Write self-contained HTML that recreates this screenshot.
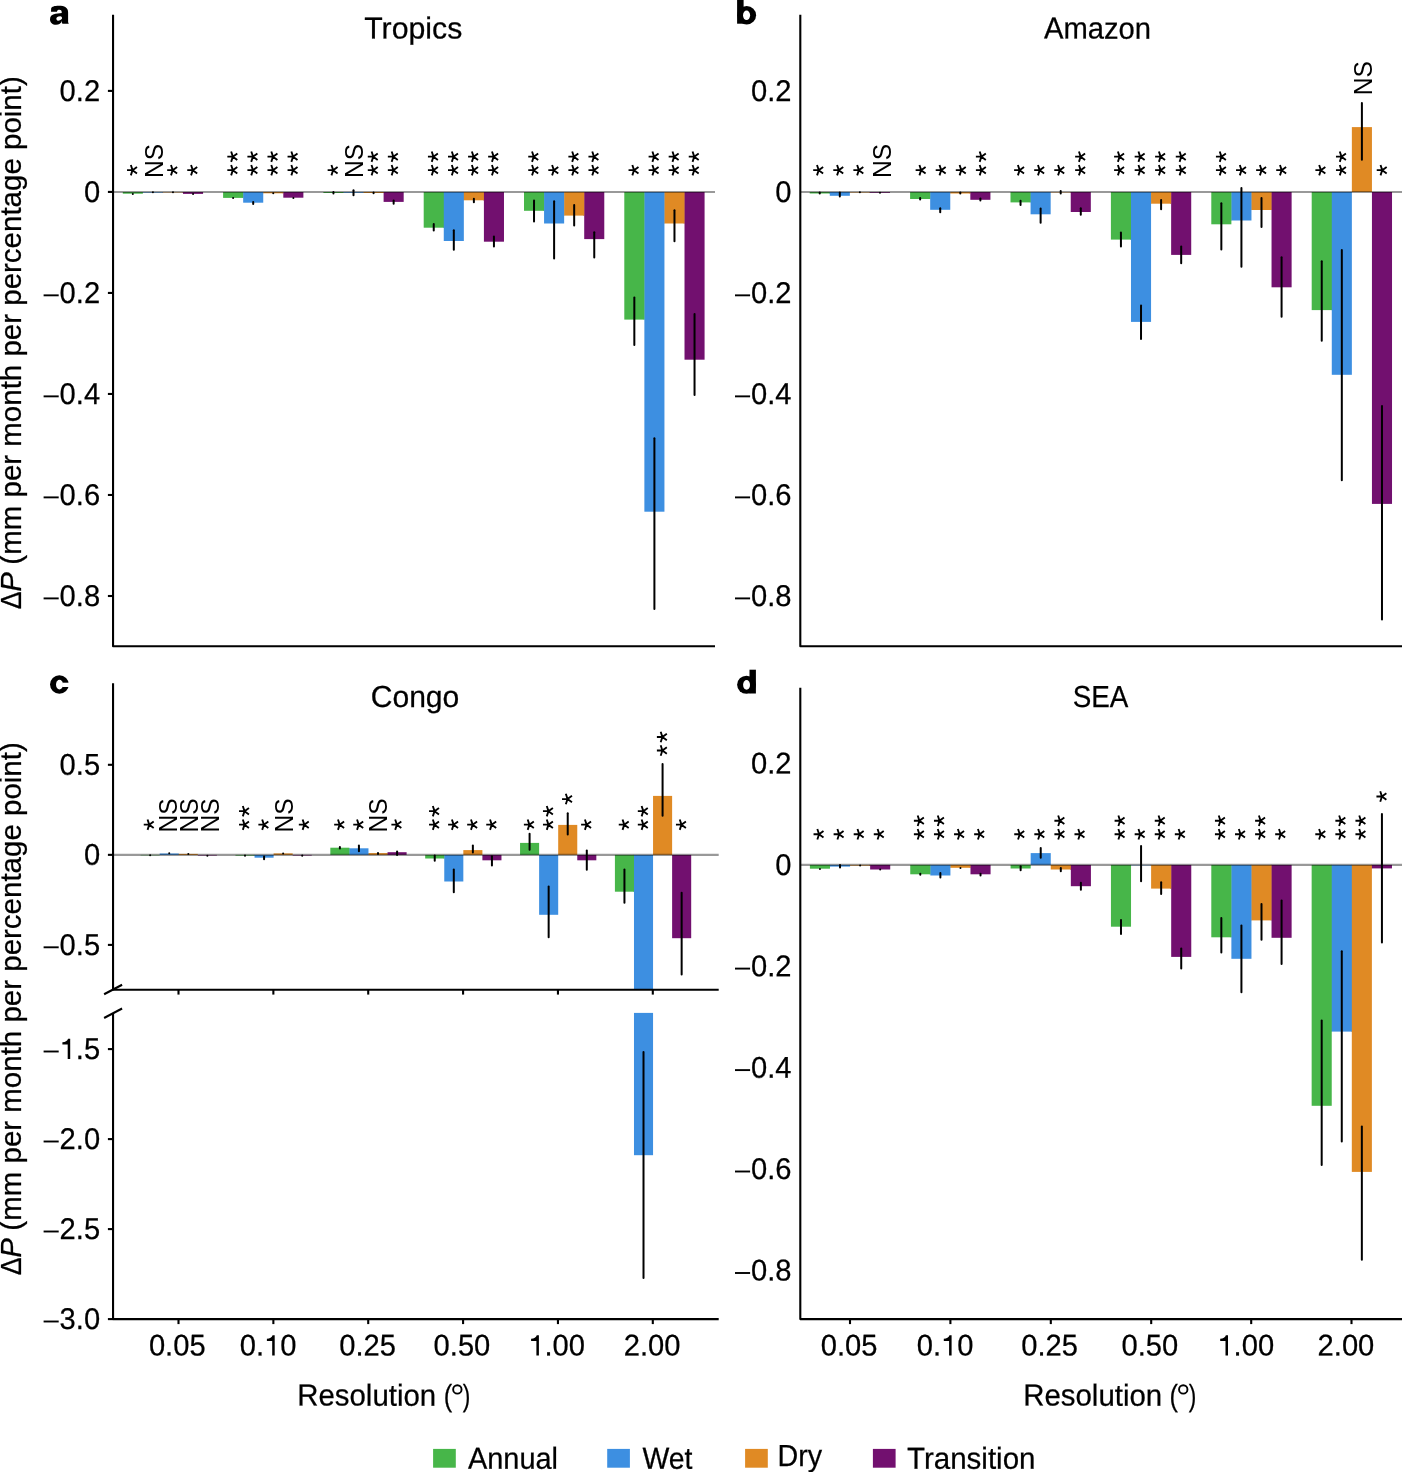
<!DOCTYPE html>
<html><head><meta charset="utf-8"><title>Figure</title>
<style>html,body{margin:0;padding:0;background:#fff;}svg{display:block;will-change:transform;}.t{stroke:#000;stroke-width:0.25px;}</style>
</head><body>
<svg width="1402" height="1472" viewBox="0 0 1402 1472" font-family='"Liberation Sans", sans-serif' fill="#000">
<rect width="1402" height="1472" fill="#fff"/>
<rect x="182.21" y="192" width="1" height="0.4" fill="#72106f"/>
<rect x="183.01" y="192" width="20.07" height="1.9" fill="#72106f"/>
<rect x="162.14" y="192" width="1" height="0.4" fill="#e08a24"/>
<rect x="162.94" y="192" width="20.07" height="0.4" fill="#e08a24"/>
<rect x="142.07" y="192" width="1" height="0.6" fill="#3d8fe1"/>
<rect x="142.87" y="192" width="20.07" height="0.6" fill="#3d8fe1"/>
<rect x="122.8" y="192" width="20.07" height="1.7" fill="#47b649"/>
<rect x="282.51" y="192" width="1" height="1.3" fill="#72106f"/>
<rect x="283.31" y="192" width="20.07" height="5.7" fill="#72106f"/>
<rect x="262.44" y="192" width="1" height="1.3" fill="#e08a24"/>
<rect x="263.24" y="192" width="20.07" height="1.3" fill="#e08a24"/>
<rect x="242.37" y="192" width="1" height="5.9" fill="#3d8fe1"/>
<rect x="243.17" y="192" width="20.07" height="10.7" fill="#3d8fe1"/>
<rect x="223.1" y="192" width="20.07" height="5.9" fill="#47b649"/>
<rect x="382.81" y="192" width="1" height="1" fill="#72106f"/>
<rect x="383.61" y="192" width="20.07" height="9.9" fill="#72106f"/>
<rect x="362.74" y="192" width="1" height="0.8" fill="#e08a24"/>
<rect x="363.54" y="192" width="20.07" height="1" fill="#e08a24"/>
<rect x="342.67" y="192" width="1" height="0.8" fill="#3d8fe1"/>
<rect x="343.47" y="192" width="20.07" height="0.8" fill="#3d8fe1"/>
<rect x="323.4" y="192" width="20.07" height="1" fill="#47b649"/>
<rect x="483.11" y="192" width="1" height="8.3" fill="#72106f"/>
<rect x="483.91" y="192" width="20.07" height="49.7" fill="#72106f"/>
<rect x="463.04" y="192" width="1" height="8.3" fill="#e08a24"/>
<rect x="463.84" y="192" width="20.07" height="8.3" fill="#e08a24"/>
<rect x="442.97" y="192" width="1" height="35.7" fill="#3d8fe1"/>
<rect x="443.77" y="192" width="20.07" height="49" fill="#3d8fe1"/>
<rect x="423.7" y="192" width="20.07" height="35.7" fill="#47b649"/>
<rect x="583.41" y="192" width="1" height="23.6" fill="#72106f"/>
<rect x="584.21" y="192" width="20.07" height="47.1" fill="#72106f"/>
<rect x="563.34" y="192" width="1" height="23.6" fill="#e08a24"/>
<rect x="564.14" y="192" width="20.07" height="23.6" fill="#e08a24"/>
<rect x="543.27" y="192" width="1" height="18.8" fill="#3d8fe1"/>
<rect x="544.07" y="192" width="20.07" height="31.5" fill="#3d8fe1"/>
<rect x="524" y="192" width="20.07" height="18.8" fill="#47b649"/>
<rect x="683.71" y="192" width="1" height="31.5" fill="#72106f"/>
<rect x="684.51" y="192" width="20.07" height="167.7" fill="#72106f"/>
<rect x="663.64" y="192" width="1" height="31.5" fill="#e08a24"/>
<rect x="664.44" y="192" width="20.07" height="31.5" fill="#e08a24"/>
<rect x="643.57" y="192" width="1" height="127.6" fill="#3d8fe1"/>
<rect x="644.37" y="192" width="20.07" height="319.7" fill="#3d8fe1"/>
<rect x="624.3" y="192" width="20.07" height="127.6" fill="#47b649"/>
<line x1="113.05" y1="192" x2="715" y2="192" stroke="#000" stroke-opacity="0.4" stroke-width="2.1"/>
<line x1="132.84" y1="193.9" x2="132.84" y2="193.91" stroke="#000" stroke-width="2" stroke-linecap="round"/>
<line x1="152.91" y1="192.2" x2="152.91" y2="192.21" stroke="#000" stroke-width="2" stroke-linecap="round"/>
<line x1="172.97" y1="192.2" x2="172.97" y2="192.21" stroke="#000" stroke-width="2" stroke-linecap="round"/>
<line x1="193.05" y1="194.1" x2="193.05" y2="194.11" stroke="#000" stroke-width="2" stroke-linecap="round"/>
<line x1="233.13" y1="197.9" x2="233.13" y2="197.91" stroke="#000" stroke-width="2" stroke-linecap="round"/>
<line x1="253.2" y1="202" x2="253.2" y2="203.91" stroke="#000" stroke-width="2" stroke-linecap="round"/>
<line x1="273.27" y1="193.25" x2="273.27" y2="193.26" stroke="#000" stroke-width="2" stroke-linecap="round"/>
<line x1="293.35" y1="197.9" x2="293.35" y2="197.91" stroke="#000" stroke-width="2" stroke-linecap="round"/>
<line x1="333.44" y1="192" x2="333.44" y2="193.61" stroke="#000" stroke-width="2" stroke-linecap="round"/>
<line x1="353.5" y1="190.2" x2="353.5" y2="195.31" stroke="#000" stroke-width="2" stroke-linecap="round"/>
<line x1="373.57" y1="192.4" x2="373.57" y2="193.21" stroke="#000" stroke-width="2" stroke-linecap="round"/>
<line x1="393.64" y1="200.5" x2="393.64" y2="203.81" stroke="#000" stroke-width="2" stroke-linecap="round"/>
<line x1="433.74" y1="224" x2="433.74" y2="230.41" stroke="#000" stroke-width="2" stroke-linecap="round"/>
<line x1="453.81" y1="230.3" x2="453.81" y2="249.71" stroke="#000" stroke-width="2" stroke-linecap="round"/>
<line x1="473.88" y1="198.7" x2="473.88" y2="202.21" stroke="#000" stroke-width="2" stroke-linecap="round"/>
<line x1="493.94" y1="236.4" x2="493.94" y2="246.51" stroke="#000" stroke-width="2" stroke-linecap="round"/>
<line x1="534.03" y1="200.5" x2="534.03" y2="221.51" stroke="#000" stroke-width="2" stroke-linecap="round"/>
<line x1="554.11" y1="201.3" x2="554.11" y2="258.41" stroke="#000" stroke-width="2" stroke-linecap="round"/>
<line x1="574.17" y1="205" x2="574.17" y2="225.41" stroke="#000" stroke-width="2" stroke-linecap="round"/>
<line x1="594.25" y1="232.2" x2="594.25" y2="257.41" stroke="#000" stroke-width="2" stroke-linecap="round"/>
<line x1="634.33" y1="297.6" x2="634.33" y2="345.01" stroke="#000" stroke-width="2" stroke-linecap="round"/>
<line x1="654.4" y1="438.3" x2="654.4" y2="608.91" stroke="#000" stroke-width="2" stroke-linecap="round"/>
<line x1="674.47" y1="210.3" x2="674.47" y2="241.31" stroke="#000" stroke-width="2" stroke-linecap="round"/>
<line x1="694.54" y1="314" x2="694.54" y2="395.11" stroke="#000" stroke-width="2" stroke-linecap="round"/>
<path d="M132.53 170.15L127.03 170.15M132.53 170.15L130.84 164.92M132.53 170.15L136.98 166.92M132.53 170.15L136.98 173.38M132.53 170.15L130.84 175.38" stroke="#000" stroke-width="1.85" fill="none" stroke-linecap="butt"/>
<text transform="translate(162.66 177.9) rotate(-90)" font-size="25.6" textLength="34.09" lengthAdjust="spacingAndGlyphs">NS</text>
<path d="M172.67 170.15L167.17 170.15M172.67 170.15L170.98 164.92M172.67 170.15L177.12 166.92M172.67 170.15L177.12 173.38M172.67 170.15L170.98 175.38" stroke="#000" stroke-width="1.85" fill="none" stroke-linecap="butt"/>
<path d="M192.75 170.15L187.25 170.15M192.75 170.15L191.05 164.92M192.75 170.15L197.19 166.92M192.75 170.15L197.19 173.38M192.75 170.15L191.05 175.38" stroke="#000" stroke-width="1.85" fill="none" stroke-linecap="butt"/>
<path d="M232.83 170.15L227.33 170.15M232.83 170.15L231.14 164.92M232.83 170.15L237.28 166.92M232.83 170.15L237.28 173.38M232.83 170.15L231.14 175.38" stroke="#000" stroke-width="1.85" fill="none" stroke-linecap="butt"/>
<path d="M232.83 156.65L227.33 156.65M232.83 156.65L231.14 151.42M232.83 156.65L237.28 153.42M232.83 156.65L237.28 159.88M232.83 156.65L231.14 161.88" stroke="#000" stroke-width="1.85" fill="none" stroke-linecap="butt"/>
<path d="M252.9 170.15L247.4 170.15M252.9 170.15L251.21 164.92M252.9 170.15L257.35 166.92M252.9 170.15L257.35 173.38M252.9 170.15L251.21 175.38" stroke="#000" stroke-width="1.85" fill="none" stroke-linecap="butt"/>
<path d="M252.9 156.65L247.4 156.65M252.9 156.65L251.21 151.42M252.9 156.65L257.35 153.42M252.9 156.65L257.35 159.88M252.9 156.65L251.21 161.88" stroke="#000" stroke-width="1.85" fill="none" stroke-linecap="butt"/>
<path d="M272.97 170.15L267.47 170.15M272.97 170.15L271.28 164.92M272.97 170.15L277.42 166.92M272.97 170.15L277.42 173.38M272.97 170.15L271.28 175.38" stroke="#000" stroke-width="1.85" fill="none" stroke-linecap="butt"/>
<path d="M272.97 156.65L267.47 156.65M272.97 156.65L271.28 151.42M272.97 156.65L277.42 153.42M272.97 156.65L277.42 159.88M272.97 156.65L271.28 161.88" stroke="#000" stroke-width="1.85" fill="none" stroke-linecap="butt"/>
<path d="M293.05 170.15L287.55 170.15M293.05 170.15L291.35 164.92M293.05 170.15L297.49 166.92M293.05 170.15L297.49 173.38M293.05 170.15L291.35 175.38" stroke="#000" stroke-width="1.85" fill="none" stroke-linecap="butt"/>
<path d="M293.05 156.65L287.55 156.65M293.05 156.65L291.35 151.42M293.05 156.65L297.49 153.42M293.05 156.65L297.49 159.88M293.05 156.65L291.35 161.88" stroke="#000" stroke-width="1.85" fill="none" stroke-linecap="butt"/>
<path d="M333.13 170.15L327.63 170.15M333.13 170.15L331.44 164.92M333.13 170.15L337.58 166.92M333.13 170.15L337.58 173.38M333.13 170.15L331.44 175.38" stroke="#000" stroke-width="1.85" fill="none" stroke-linecap="butt"/>
<text transform="translate(363.25 177.9) rotate(-90)" font-size="25.6" textLength="34.09" lengthAdjust="spacingAndGlyphs">NS</text>
<path d="M373.27 170.15L367.77 170.15M373.27 170.15L371.58 164.92M373.27 170.15L377.72 166.92M373.27 170.15L377.72 173.38M373.27 170.15L371.58 175.38" stroke="#000" stroke-width="1.85" fill="none" stroke-linecap="butt"/>
<path d="M373.27 156.65L367.77 156.65M373.27 156.65L371.58 151.42M373.27 156.65L377.72 153.42M373.27 156.65L377.72 159.88M373.27 156.65L371.58 161.88" stroke="#000" stroke-width="1.85" fill="none" stroke-linecap="butt"/>
<path d="M393.34 170.15L387.84 170.15M393.34 170.15L391.65 164.92M393.34 170.15L397.79 166.92M393.34 170.15L397.79 173.38M393.34 170.15L391.65 175.38" stroke="#000" stroke-width="1.85" fill="none" stroke-linecap="butt"/>
<path d="M393.34 156.65L387.84 156.65M393.34 156.65L391.65 151.42M393.34 156.65L397.79 153.42M393.34 156.65L397.79 159.88M393.34 156.65L391.65 161.88" stroke="#000" stroke-width="1.85" fill="none" stroke-linecap="butt"/>
<path d="M433.44 170.15L427.94 170.15M433.44 170.15L431.74 164.92M433.44 170.15L437.88 166.92M433.44 170.15L437.88 173.38M433.44 170.15L431.74 175.38" stroke="#000" stroke-width="1.85" fill="none" stroke-linecap="butt"/>
<path d="M433.44 156.65L427.94 156.65M433.44 156.65L431.74 151.42M433.44 156.65L437.88 153.42M433.44 156.65L437.88 159.88M433.44 156.65L431.74 161.88" stroke="#000" stroke-width="1.85" fill="none" stroke-linecap="butt"/>
<path d="M453.5 170.15L448 170.15M453.5 170.15L451.81 164.92M453.5 170.15L457.95 166.92M453.5 170.15L457.95 173.38M453.5 170.15L451.81 175.38" stroke="#000" stroke-width="1.85" fill="none" stroke-linecap="butt"/>
<path d="M453.5 156.65L448 156.65M453.5 156.65L451.81 151.42M453.5 156.65L457.95 153.42M453.5 156.65L457.95 159.88M453.5 156.65L451.81 161.88" stroke="#000" stroke-width="1.85" fill="none" stroke-linecap="butt"/>
<path d="M473.57 170.15L468.07 170.15M473.57 170.15L471.88 164.92M473.57 170.15L478.02 166.92M473.57 170.15L478.02 173.38M473.57 170.15L471.88 175.38" stroke="#000" stroke-width="1.85" fill="none" stroke-linecap="butt"/>
<path d="M473.57 156.65L468.07 156.65M473.57 156.65L471.88 151.42M473.57 156.65L478.02 153.42M473.57 156.65L478.02 159.88M473.57 156.65L471.88 161.88" stroke="#000" stroke-width="1.85" fill="none" stroke-linecap="butt"/>
<path d="M493.64 170.15L488.14 170.15M493.64 170.15L491.95 164.92M493.64 170.15L498.09 166.92M493.64 170.15L498.09 173.38M493.64 170.15L491.95 175.38" stroke="#000" stroke-width="1.85" fill="none" stroke-linecap="butt"/>
<path d="M493.64 156.65L488.14 156.65M493.64 156.65L491.95 151.42M493.64 156.65L498.09 153.42M493.64 156.65L498.09 159.88M493.64 156.65L491.95 161.88" stroke="#000" stroke-width="1.85" fill="none" stroke-linecap="butt"/>
<path d="M533.74 170.15L528.24 170.15M533.74 170.15L532.04 164.92M533.74 170.15L538.18 166.92M533.74 170.15L538.18 173.38M533.74 170.15L532.04 175.38" stroke="#000" stroke-width="1.85" fill="none" stroke-linecap="butt"/>
<path d="M533.74 156.65L528.24 156.65M533.74 156.65L532.04 151.42M533.74 156.65L538.18 153.42M533.74 156.65L538.18 159.88M533.74 156.65L532.04 161.88" stroke="#000" stroke-width="1.85" fill="none" stroke-linecap="butt"/>
<path d="M553.81 170.15L548.31 170.15M553.81 170.15L552.11 164.92M553.81 170.15L558.25 166.92M553.81 170.15L558.25 173.38M553.81 170.15L552.11 175.38" stroke="#000" stroke-width="1.85" fill="none" stroke-linecap="butt"/>
<path d="M573.88 170.15L568.38 170.15M573.88 170.15L572.18 164.92M573.88 170.15L578.32 166.92M573.88 170.15L578.32 173.38M573.88 170.15L572.18 175.38" stroke="#000" stroke-width="1.85" fill="none" stroke-linecap="butt"/>
<path d="M573.88 156.65L568.38 156.65M573.88 156.65L572.18 151.42M573.88 156.65L578.32 153.42M573.88 156.65L578.32 159.88M573.88 156.65L572.18 161.88" stroke="#000" stroke-width="1.85" fill="none" stroke-linecap="butt"/>
<path d="M593.95 170.15L588.45 170.15M593.95 170.15L592.25 164.92M593.95 170.15L598.39 166.92M593.95 170.15L598.39 173.38M593.95 170.15L592.25 175.38" stroke="#000" stroke-width="1.85" fill="none" stroke-linecap="butt"/>
<path d="M593.95 156.65L588.45 156.65M593.95 156.65L592.25 151.42M593.95 156.65L598.39 153.42M593.95 156.65L598.39 159.88M593.95 156.65L592.25 161.88" stroke="#000" stroke-width="1.85" fill="none" stroke-linecap="butt"/>
<path d="M634.03 170.15L628.53 170.15M634.03 170.15L632.34 164.92M634.03 170.15L638.48 166.92M634.03 170.15L638.48 173.38M634.03 170.15L632.34 175.38" stroke="#000" stroke-width="1.85" fill="none" stroke-linecap="butt"/>
<path d="M654.11 170.15L648.61 170.15M654.11 170.15L652.41 164.92M654.11 170.15L658.55 166.92M654.11 170.15L658.55 173.38M654.11 170.15L652.41 175.38" stroke="#000" stroke-width="1.85" fill="none" stroke-linecap="butt"/>
<path d="M654.11 156.65L648.61 156.65M654.11 156.65L652.41 151.42M654.11 156.65L658.55 153.42M654.11 156.65L658.55 159.88M654.11 156.65L652.41 161.88" stroke="#000" stroke-width="1.85" fill="none" stroke-linecap="butt"/>
<path d="M674.17 170.15L668.67 170.15M674.17 170.15L672.48 164.92M674.17 170.15L678.62 166.92M674.17 170.15L678.62 173.38M674.17 170.15L672.48 175.38" stroke="#000" stroke-width="1.85" fill="none" stroke-linecap="butt"/>
<path d="M674.17 156.65L668.67 156.65M674.17 156.65L672.48 151.42M674.17 156.65L678.62 153.42M674.17 156.65L678.62 159.88M674.17 156.65L672.48 161.88" stroke="#000" stroke-width="1.85" fill="none" stroke-linecap="butt"/>
<path d="M694.25 170.15L688.75 170.15M694.25 170.15L692.55 164.92M694.25 170.15L698.69 166.92M694.25 170.15L698.69 173.38M694.25 170.15L692.55 175.38" stroke="#000" stroke-width="1.85" fill="none" stroke-linecap="butt"/>
<path d="M694.25 156.65L688.75 156.65M694.25 156.65L692.55 151.42M694.25 156.65L698.69 153.42M694.25 156.65L698.69 159.88M694.25 156.65L692.55 161.88" stroke="#000" stroke-width="1.85" fill="none" stroke-linecap="butt"/>
<path d="M113.05 14.8V646.3H715" fill="none" stroke="#000" stroke-width="2.1" stroke-linejoin="round"/>
<line x1="107.9" y1="90.9" x2="113" y2="90.9" stroke="#000" stroke-width="2.1" stroke-linecap="butt"/>
<line x1="107.9" y1="191.92" x2="113" y2="191.92" stroke="#000" stroke-width="2.1" stroke-linecap="butt"/>
<line x1="107.9" y1="292.94" x2="113" y2="292.94" stroke="#000" stroke-width="2.1" stroke-linecap="butt"/>
<line x1="107.9" y1="393.96" x2="113" y2="393.96" stroke="#000" stroke-width="2.1" stroke-linecap="butt"/>
<line x1="107.9" y1="494.98" x2="113" y2="494.98" stroke="#000" stroke-width="2.1" stroke-linecap="butt"/>
<line x1="107.9" y1="596" x2="113" y2="596" stroke="#000" stroke-width="2.1" stroke-linecap="butt"/>
<text class="t" x="59.6" y="100.9" font-size="30" textLength="40.5" lengthAdjust="spacingAndGlyphs" transform="rotate(0.03 59.6 100.9)">0.2</text>
<text class="t" x="83.9" y="201.92" font-size="30" textLength="16.2" lengthAdjust="spacingAndGlyphs" transform="rotate(0.03 83.9 201.92)">0</text>
<line x1="43.6" y1="295.34" x2="58.7" y2="295.34" stroke="#000" stroke-width="1.9" stroke-linecap="butt"/>
<text class="t" x="59.6" y="302.94" font-size="30" textLength="40.5" lengthAdjust="spacingAndGlyphs" transform="rotate(0.03 59.6 302.94)">0.2</text>
<line x1="43.6" y1="396.36" x2="58.7" y2="396.36" stroke="#000" stroke-width="1.9" stroke-linecap="butt"/>
<text class="t" x="59.6" y="403.96" font-size="30" textLength="40.5" lengthAdjust="spacingAndGlyphs" transform="rotate(0.03 59.6 403.96)">0.4</text>
<line x1="43.6" y1="497.38" x2="58.7" y2="497.38" stroke="#000" stroke-width="1.9" stroke-linecap="butt"/>
<text class="t" x="59.6" y="504.98" font-size="30" textLength="40.5" lengthAdjust="spacingAndGlyphs" transform="rotate(0.03 59.6 504.98)">0.6</text>
<line x1="43.6" y1="598.4" x2="58.7" y2="598.4" stroke="#000" stroke-width="1.9" stroke-linecap="butt"/>
<text class="t" x="59.6" y="606" font-size="30" textLength="40.5" lengthAdjust="spacingAndGlyphs" transform="rotate(0.03 59.6 606)">0.8</text>
<rect x="869.14" y="192" width="1" height="0.5" fill="#72106f"/>
<rect x="869.94" y="192" width="20.08" height="0.8" fill="#72106f"/>
<rect x="849.06" y="192" width="1" height="0.5" fill="#e08a24"/>
<rect x="849.86" y="192" width="20.08" height="0.5" fill="#e08a24"/>
<rect x="828.98" y="192" width="1" height="1.5" fill="#3d8fe1"/>
<rect x="829.78" y="192" width="20.08" height="3.8" fill="#3d8fe1"/>
<rect x="809.7" y="192" width="20.08" height="1.5" fill="#47b649"/>
<rect x="969.54" y="192" width="1" height="1.5" fill="#72106f"/>
<rect x="970.34" y="192" width="20.08" height="7.8" fill="#72106f"/>
<rect x="949.46" y="192" width="1" height="1.5" fill="#e08a24"/>
<rect x="950.26" y="192" width="20.08" height="1.5" fill="#e08a24"/>
<rect x="929.38" y="192" width="1" height="7" fill="#3d8fe1"/>
<rect x="930.18" y="192" width="20.08" height="17.8" fill="#3d8fe1"/>
<rect x="910.1" y="192" width="20.08" height="7" fill="#47b649"/>
<rect x="1069.94" y="192" width="1" height="0.4" fill="#72106f"/>
<rect x="1070.74" y="192" width="20.08" height="20" fill="#72106f"/>
<rect x="1049.86" y="192" width="1" height="0.4" fill="#e08a24"/>
<rect x="1050.66" y="192" width="20.08" height="0.4" fill="#e08a24"/>
<rect x="1029.78" y="192" width="1" height="10.4" fill="#3d8fe1"/>
<rect x="1030.58" y="192" width="20.08" height="22.3" fill="#3d8fe1"/>
<rect x="1010.5" y="192" width="20.08" height="10.4" fill="#47b649"/>
<rect x="1170.34" y="192" width="1" height="11.7" fill="#72106f"/>
<rect x="1171.14" y="192" width="20.08" height="62.9" fill="#72106f"/>
<rect x="1150.26" y="192" width="1" height="11.7" fill="#e08a24"/>
<rect x="1151.06" y="192" width="20.08" height="11.7" fill="#e08a24"/>
<rect x="1130.18" y="192" width="1" height="47.6" fill="#3d8fe1"/>
<rect x="1130.98" y="192" width="20.08" height="129.9" fill="#3d8fe1"/>
<rect x="1110.9" y="192" width="20.08" height="47.6" fill="#47b649"/>
<rect x="1270.74" y="192" width="1" height="18" fill="#72106f"/>
<rect x="1271.54" y="192" width="20.08" height="95.3" fill="#72106f"/>
<rect x="1250.66" y="192" width="1" height="18" fill="#e08a24"/>
<rect x="1251.46" y="192" width="20.08" height="18" fill="#e08a24"/>
<rect x="1230.58" y="192" width="1" height="28.5" fill="#3d8fe1"/>
<rect x="1231.38" y="192" width="20.08" height="28.5" fill="#3d8fe1"/>
<rect x="1211.3" y="192" width="20.08" height="32.3" fill="#47b649"/>
<rect x="1371.94" y="192" width="20.08" height="311.9" fill="#72106f"/>
<rect x="1351.86" y="127.1" width="20.08" height="64.9" fill="#e08a24"/>
<rect x="1330.98" y="192" width="1" height="118.1" fill="#3d8fe1"/>
<rect x="1331.78" y="192" width="20.08" height="182.8" fill="#3d8fe1"/>
<rect x="1311.7" y="192" width="20.08" height="118.1" fill="#47b649"/>
<line x1="800.3" y1="192" x2="1402" y2="192" stroke="#000" stroke-opacity="0.4" stroke-width="2.1"/>
<line x1="819.74" y1="192.6" x2="819.74" y2="193.51" stroke="#000" stroke-width="2" stroke-linecap="round"/>
<line x1="839.82" y1="192.5" x2="839.82" y2="196.41" stroke="#000" stroke-width="2" stroke-linecap="round"/>
<line x1="859.9" y1="192.35" x2="859.9" y2="192.36" stroke="#000" stroke-width="2" stroke-linecap="round"/>
<line x1="879.98" y1="192.8" x2="879.98" y2="192.81" stroke="#000" stroke-width="2" stroke-linecap="round"/>
<line x1="920.14" y1="197.9" x2="920.14" y2="199.61" stroke="#000" stroke-width="2" stroke-linecap="round"/>
<line x1="940.22" y1="208.2" x2="940.22" y2="212.31" stroke="#000" stroke-width="2" stroke-linecap="round"/>
<line x1="960.3" y1="192.5" x2="960.3" y2="193.51" stroke="#000" stroke-width="2" stroke-linecap="round"/>
<line x1="980.38" y1="198.4" x2="980.38" y2="200.41" stroke="#000" stroke-width="2" stroke-linecap="round"/>
<line x1="1020.54" y1="200.8" x2="1020.54" y2="204.91" stroke="#000" stroke-width="2" stroke-linecap="round"/>
<line x1="1040.62" y1="208.4" x2="1040.62" y2="222.81" stroke="#000" stroke-width="2" stroke-linecap="round"/>
<line x1="1060.7" y1="190.9" x2="1060.7" y2="193.61" stroke="#000" stroke-width="2" stroke-linecap="round"/>
<line x1="1080.78" y1="208.2" x2="1080.78" y2="214.81" stroke="#000" stroke-width="2" stroke-linecap="round"/>
<line x1="1120.94" y1="232.6" x2="1120.94" y2="246.41" stroke="#000" stroke-width="2" stroke-linecap="round"/>
<line x1="1141.02" y1="305.4" x2="1141.02" y2="339.01" stroke="#000" stroke-width="2" stroke-linecap="round"/>
<line x1="1161.1" y1="199.9" x2="1161.1" y2="209.21" stroke="#000" stroke-width="2" stroke-linecap="round"/>
<line x1="1181.18" y1="246.4" x2="1181.18" y2="263.21" stroke="#000" stroke-width="2" stroke-linecap="round"/>
<line x1="1221.34" y1="203.2" x2="1221.34" y2="249.41" stroke="#000" stroke-width="2" stroke-linecap="round"/>
<line x1="1241.42" y1="187.9" x2="1241.42" y2="266.71" stroke="#000" stroke-width="2" stroke-linecap="round"/>
<line x1="1261.5" y1="197.9" x2="1261.5" y2="227.01" stroke="#000" stroke-width="2" stroke-linecap="round"/>
<line x1="1281.58" y1="257.2" x2="1281.58" y2="316.71" stroke="#000" stroke-width="2" stroke-linecap="round"/>
<line x1="1321.74" y1="261.2" x2="1321.74" y2="340.81" stroke="#000" stroke-width="2" stroke-linecap="round"/>
<line x1="1341.82" y1="249.9" x2="1341.82" y2="480.31" stroke="#000" stroke-width="2" stroke-linecap="round"/>
<line x1="1361.9" y1="103" x2="1361.9" y2="159.81" stroke="#000" stroke-width="2" stroke-linecap="round"/>
<line x1="1381.98" y1="405.9" x2="1381.98" y2="619.61" stroke="#000" stroke-width="2" stroke-linecap="round"/>
<path d="M818.69 170.15L813.19 170.15M818.69 170.15L816.99 164.92M818.69 170.15L823.14 166.92M818.69 170.15L823.14 173.38M818.69 170.15L816.99 175.38" stroke="#000" stroke-width="1.85" fill="none" stroke-linecap="butt"/>
<path d="M838.77 170.15L833.27 170.15M838.77 170.15L837.07 164.92M838.77 170.15L843.22 166.92M838.77 170.15L843.22 173.38M838.77 170.15L837.07 175.38" stroke="#000" stroke-width="1.85" fill="none" stroke-linecap="butt"/>
<path d="M858.85 170.15L853.35 170.15M858.85 170.15L857.15 164.92M858.85 170.15L863.3 166.92M858.85 170.15L863.3 173.38M858.85 170.15L857.15 175.38" stroke="#000" stroke-width="1.85" fill="none" stroke-linecap="butt"/>
<text transform="translate(890.83 177.9) rotate(-90)" font-size="25.6" textLength="34.09" lengthAdjust="spacingAndGlyphs">NS</text>
<path d="M921.14 170.15L915.64 170.15M921.14 170.15L919.44 164.92M921.14 170.15L925.59 166.92M921.14 170.15L925.59 173.38M921.14 170.15L919.44 175.38" stroke="#000" stroke-width="1.85" fill="none" stroke-linecap="butt"/>
<path d="M941.22 170.15L935.72 170.15M941.22 170.15L939.52 164.92M941.22 170.15L945.67 166.92M941.22 170.15L945.67 173.38M941.22 170.15L939.52 175.38" stroke="#000" stroke-width="1.85" fill="none" stroke-linecap="butt"/>
<path d="M961.3 170.15L955.8 170.15M961.3 170.15L959.6 164.92M961.3 170.15L965.75 166.92M961.3 170.15L965.75 173.38M961.3 170.15L959.6 175.38" stroke="#000" stroke-width="1.85" fill="none" stroke-linecap="butt"/>
<path d="M981.38 170.15L975.88 170.15M981.38 170.15L979.68 164.92M981.38 170.15L985.83 166.92M981.38 170.15L985.83 173.38M981.38 170.15L979.68 175.38" stroke="#000" stroke-width="1.85" fill="none" stroke-linecap="butt"/>
<path d="M981.38 156.65L975.88 156.65M981.38 156.65L979.68 151.42M981.38 156.65L985.83 153.42M981.38 156.65L985.83 159.88M981.38 156.65L979.68 161.88" stroke="#000" stroke-width="1.85" fill="none" stroke-linecap="butt"/>
<path d="M1019.59 170.15L1014.09 170.15M1019.59 170.15L1017.89 164.92M1019.59 170.15L1024.04 166.92M1019.59 170.15L1024.04 173.38M1019.59 170.15L1017.89 175.38" stroke="#000" stroke-width="1.85" fill="none" stroke-linecap="butt"/>
<path d="M1039.67 170.15L1034.17 170.15M1039.67 170.15L1037.97 164.92M1039.67 170.15L1044.12 166.92M1039.67 170.15L1044.12 173.38M1039.67 170.15L1037.97 175.38" stroke="#000" stroke-width="1.85" fill="none" stroke-linecap="butt"/>
<path d="M1059.75 170.15L1054.25 170.15M1059.75 170.15L1058.05 164.92M1059.75 170.15L1064.2 166.92M1059.75 170.15L1064.2 173.38M1059.75 170.15L1058.05 175.38" stroke="#000" stroke-width="1.85" fill="none" stroke-linecap="butt"/>
<path d="M1080.63 170.15L1075.13 170.15M1080.63 170.15L1078.93 164.92M1080.63 170.15L1085.08 166.92M1080.63 170.15L1085.08 173.38M1080.63 170.15L1078.93 175.38" stroke="#000" stroke-width="1.85" fill="none" stroke-linecap="butt"/>
<path d="M1080.63 156.65L1075.13 156.65M1080.63 156.65L1078.93 151.42M1080.63 156.65L1085.08 153.42M1080.63 156.65L1085.08 159.88M1080.63 156.65L1078.93 161.88" stroke="#000" stroke-width="1.85" fill="none" stroke-linecap="butt"/>
<path d="M1119.59 170.15L1114.09 170.15M1119.59 170.15L1117.89 164.92M1119.59 170.15L1124.04 166.92M1119.59 170.15L1124.04 173.38M1119.59 170.15L1117.89 175.38" stroke="#000" stroke-width="1.85" fill="none" stroke-linecap="butt"/>
<path d="M1119.59 156.65L1114.09 156.65M1119.59 156.65L1117.89 151.42M1119.59 156.65L1124.04 153.42M1119.59 156.65L1124.04 159.88M1119.59 156.65L1117.89 161.88" stroke="#000" stroke-width="1.85" fill="none" stroke-linecap="butt"/>
<path d="M1140.17 170.15L1134.67 170.15M1140.17 170.15L1138.47 164.92M1140.17 170.15L1144.62 166.92M1140.17 170.15L1144.62 173.38M1140.17 170.15L1138.47 175.38" stroke="#000" stroke-width="1.85" fill="none" stroke-linecap="butt"/>
<path d="M1140.17 156.65L1134.67 156.65M1140.17 156.65L1138.47 151.42M1140.17 156.65L1144.62 153.42M1140.17 156.65L1144.62 159.88M1140.17 156.65L1138.47 161.88" stroke="#000" stroke-width="1.85" fill="none" stroke-linecap="butt"/>
<path d="M1160.6 170.15L1155.1 170.15M1160.6 170.15L1158.9 164.92M1160.6 170.15L1165.05 166.92M1160.6 170.15L1165.05 173.38M1160.6 170.15L1158.9 175.38" stroke="#000" stroke-width="1.85" fill="none" stroke-linecap="butt"/>
<path d="M1160.6 156.65L1155.1 156.65M1160.6 156.65L1158.9 151.42M1160.6 156.65L1165.05 153.42M1160.6 156.65L1165.05 159.88M1160.6 156.65L1158.9 161.88" stroke="#000" stroke-width="1.85" fill="none" stroke-linecap="butt"/>
<path d="M1181.28 170.15L1175.78 170.15M1181.28 170.15L1179.58 164.92M1181.28 170.15L1185.73 166.92M1181.28 170.15L1185.73 173.38M1181.28 170.15L1179.58 175.38" stroke="#000" stroke-width="1.85" fill="none" stroke-linecap="butt"/>
<path d="M1181.28 156.65L1175.78 156.65M1181.28 156.65L1179.58 151.42M1181.28 156.65L1185.73 153.42M1181.28 156.65L1185.73 159.88M1181.28 156.65L1179.58 161.88" stroke="#000" stroke-width="1.85" fill="none" stroke-linecap="butt"/>
<path d="M1221.44 170.15L1215.94 170.15M1221.44 170.15L1219.74 164.92M1221.44 170.15L1225.89 166.92M1221.44 170.15L1225.89 173.38M1221.44 170.15L1219.74 175.38" stroke="#000" stroke-width="1.85" fill="none" stroke-linecap="butt"/>
<path d="M1221.44 156.65L1215.94 156.65M1221.44 156.65L1219.74 151.42M1221.44 156.65L1225.89 153.42M1221.44 156.65L1225.89 159.88M1221.44 156.65L1219.74 161.88" stroke="#000" stroke-width="1.85" fill="none" stroke-linecap="butt"/>
<path d="M1241.52 170.15L1236.02 170.15M1241.52 170.15L1239.82 164.92M1241.52 170.15L1245.97 166.92M1241.52 170.15L1245.97 173.38M1241.52 170.15L1239.82 175.38" stroke="#000" stroke-width="1.85" fill="none" stroke-linecap="butt"/>
<path d="M1261.6 170.15L1256.1 170.15M1261.6 170.15L1259.9 164.92M1261.6 170.15L1266.05 166.92M1261.6 170.15L1266.05 173.38M1261.6 170.15L1259.9 175.38" stroke="#000" stroke-width="1.85" fill="none" stroke-linecap="butt"/>
<path d="M1281.68 170.15L1276.18 170.15M1281.68 170.15L1279.98 164.92M1281.68 170.15L1286.13 166.92M1281.68 170.15L1286.13 173.38M1281.68 170.15L1279.98 175.38" stroke="#000" stroke-width="1.85" fill="none" stroke-linecap="butt"/>
<path d="M1320.89 170.15L1315.39 170.15M1320.89 170.15L1319.19 164.92M1320.89 170.15L1325.34 166.92M1320.89 170.15L1325.34 173.38M1320.89 170.15L1319.19 175.38" stroke="#000" stroke-width="1.85" fill="none" stroke-linecap="butt"/>
<path d="M1341.47 170.15L1335.97 170.15M1341.47 170.15L1339.77 164.92M1341.47 170.15L1345.92 166.92M1341.47 170.15L1345.92 173.38M1341.47 170.15L1339.77 175.38" stroke="#000" stroke-width="1.85" fill="none" stroke-linecap="butt"/>
<path d="M1341.47 156.65L1335.97 156.65M1341.47 156.65L1339.77 151.42M1341.47 156.65L1345.92 153.42M1341.47 156.65L1345.92 159.88M1341.47 156.65L1339.77 161.88" stroke="#000" stroke-width="1.85" fill="none" stroke-linecap="butt"/>
<text transform="translate(1372.1 95.2) rotate(-90)" font-size="25.6" textLength="34.09" lengthAdjust="spacingAndGlyphs">NS</text>
<path d="M1382.23 170.15L1376.73 170.15M1382.23 170.15L1380.53 164.92M1382.23 170.15L1386.68 166.92M1382.23 170.15L1386.68 173.38M1382.23 170.15L1380.53 175.38" stroke="#000" stroke-width="1.85" fill="none" stroke-linecap="butt"/>
<path d="M800.3 14.8V646.3H1403" fill="none" stroke="#000" stroke-width="2.1" stroke-linejoin="round"/>
<text class="t" x="751" y="100.9" font-size="30" textLength="40.5" lengthAdjust="spacingAndGlyphs" transform="rotate(0.03 751 100.9)">0.2</text>
<text class="t" x="775.3" y="201.92" font-size="30" textLength="16.2" lengthAdjust="spacingAndGlyphs" transform="rotate(0.03 775.3 201.92)">0</text>
<line x1="735" y1="295.34" x2="750.1" y2="295.34" stroke="#000" stroke-width="1.9" stroke-linecap="butt"/>
<text class="t" x="751" y="302.94" font-size="30" textLength="40.5" lengthAdjust="spacingAndGlyphs" transform="rotate(0.03 751 302.94)">0.2</text>
<line x1="735" y1="396.36" x2="750.1" y2="396.36" stroke="#000" stroke-width="1.9" stroke-linecap="butt"/>
<text class="t" x="751" y="403.96" font-size="30" textLength="40.5" lengthAdjust="spacingAndGlyphs" transform="rotate(0.03 751 403.96)">0.4</text>
<line x1="735" y1="497.38" x2="750.1" y2="497.38" stroke="#000" stroke-width="1.9" stroke-linecap="butt"/>
<text class="t" x="751" y="504.98" font-size="30" textLength="40.5" lengthAdjust="spacingAndGlyphs" transform="rotate(0.03 751 504.98)">0.6</text>
<line x1="735" y1="598.4" x2="750.1" y2="598.4" stroke="#000" stroke-width="1.9" stroke-linecap="butt"/>
<text class="t" x="751" y="606" font-size="30" textLength="40.5" lengthAdjust="spacingAndGlyphs" transform="rotate(0.03 751 606)">0.8</text>
<rect x="197.82" y="854.9" width="19.07" height="0.6" fill="#72106f"/>
<rect x="177.95" y="853.9" width="1" height="1" fill="#e08a24"/>
<rect x="178.75" y="853.9" width="19.07" height="1" fill="#e08a24"/>
<rect x="159.68" y="853.5" width="19.07" height="1.4" fill="#3d8fe1"/>
<rect x="140.61" y="854.9" width="19.07" height="0.4" fill="#47b649"/>
<rect x="292.68" y="854.9" width="19.07" height="0.6" fill="#72106f"/>
<rect x="273.61" y="853.4" width="19.07" height="1.5" fill="#e08a24"/>
<rect x="253.74" y="854.9" width="1" height="0.7" fill="#3d8fe1"/>
<rect x="254.54" y="854.9" width="19.07" height="2.8" fill="#3d8fe1"/>
<rect x="235.47" y="854.9" width="19.07" height="0.7" fill="#47b649"/>
<rect x="386.74" y="853.1" width="1" height="1.8" fill="#72106f"/>
<rect x="387.54" y="852.2" width="19.07" height="2.7" fill="#72106f"/>
<rect x="367.67" y="853.1" width="1" height="1.8" fill="#e08a24"/>
<rect x="368.47" y="853.1" width="19.07" height="1.8" fill="#e08a24"/>
<rect x="348.6" y="848.3" width="1" height="6.6" fill="#3d8fe1"/>
<rect x="349.4" y="848.3" width="19.07" height="6.6" fill="#3d8fe1"/>
<rect x="330.33" y="847.7" width="19.07" height="7.2" fill="#47b649"/>
<rect x="482.4" y="854.9" width="19.07" height="5.4" fill="#72106f"/>
<rect x="463.33" y="850.1" width="19.07" height="4.8" fill="#e08a24"/>
<rect x="443.46" y="854.9" width="1" height="3.6" fill="#3d8fe1"/>
<rect x="444.26" y="854.9" width="19.07" height="26.6" fill="#3d8fe1"/>
<rect x="425.19" y="854.9" width="19.07" height="3.6" fill="#47b649"/>
<rect x="577.26" y="854.9" width="19.07" height="5.4" fill="#72106f"/>
<rect x="558.19" y="824.9" width="19.07" height="30" fill="#e08a24"/>
<rect x="539.12" y="854.9" width="19.07" height="59.9" fill="#3d8fe1"/>
<rect x="520.05" y="842.9" width="19.07" height="12" fill="#47b649"/>
<rect x="672.12" y="854.9" width="19.07" height="83.3" fill="#72106f"/>
<rect x="653.05" y="795.9" width="19.07" height="59" fill="#e08a24"/>
<rect x="633.18" y="854.9" width="1" height="36.8" fill="#3d8fe1"/>
<rect x="633.98" y="854.9" width="19.07" height="134.7" fill="#3d8fe1"/>
<rect x="633.98" y="1012.9" width="19.07" height="142.3" fill="#3d8fe1"/>
<rect x="614.91" y="854.9" width="19.07" height="36.8" fill="#47b649"/>
<line x1="113.05" y1="854.9" x2="718.7" y2="854.9" stroke="#000" stroke-opacity="0.4" stroke-width="2.1"/>
<line x1="150.15" y1="855.3" x2="150.15" y2="855.31" stroke="#000" stroke-width="2" stroke-linecap="round"/>
<line x1="169.22" y1="853.3" x2="169.22" y2="853.31" stroke="#000" stroke-width="2" stroke-linecap="round"/>
<line x1="188.29" y1="854.1" x2="188.29" y2="854.11" stroke="#000" stroke-width="2" stroke-linecap="round"/>
<line x1="207.36" y1="855.7" x2="207.36" y2="855.71" stroke="#000" stroke-width="2" stroke-linecap="round"/>
<line x1="245.01" y1="855.6" x2="245.01" y2="855.81" stroke="#000" stroke-width="2" stroke-linecap="round"/>
<line x1="264.08" y1="856.5" x2="264.08" y2="859.21" stroke="#000" stroke-width="2" stroke-linecap="round"/>
<line x1="283.15" y1="853.4" x2="283.15" y2="853.41" stroke="#000" stroke-width="2" stroke-linecap="round"/>
<line x1="302.22" y1="855.6" x2="302.22" y2="855.81" stroke="#000" stroke-width="2" stroke-linecap="round"/>
<line x1="339.87" y1="846.9" x2="339.87" y2="848.51" stroke="#000" stroke-width="2" stroke-linecap="round"/>
<line x1="358.94" y1="845.4" x2="358.94" y2="851.21" stroke="#000" stroke-width="2" stroke-linecap="round"/>
<line x1="378.01" y1="853" x2="378.01" y2="854.01" stroke="#000" stroke-width="2" stroke-linecap="round"/>
<line x1="397.08" y1="851.4" x2="397.08" y2="855.01" stroke="#000" stroke-width="2" stroke-linecap="round"/>
<line x1="434.73" y1="855.6" x2="434.73" y2="860.81" stroke="#000" stroke-width="2" stroke-linecap="round"/>
<line x1="453.8" y1="869.4" x2="453.8" y2="892.21" stroke="#000" stroke-width="2" stroke-linecap="round"/>
<line x1="472.87" y1="845.4" x2="472.87" y2="852.41" stroke="#000" stroke-width="2" stroke-linecap="round"/>
<line x1="491.94" y1="856.2" x2="491.94" y2="865.61" stroke="#000" stroke-width="2" stroke-linecap="round"/>
<line x1="529.59" y1="833.7" x2="529.59" y2="849.71" stroke="#000" stroke-width="2" stroke-linecap="round"/>
<line x1="548.66" y1="886.4" x2="548.66" y2="937.21" stroke="#000" stroke-width="2" stroke-linecap="round"/>
<line x1="567.73" y1="813.3" x2="567.73" y2="834.41" stroke="#000" stroke-width="2" stroke-linecap="round"/>
<line x1="586.8" y1="850.5" x2="586.8" y2="869.81" stroke="#000" stroke-width="2" stroke-linecap="round"/>
<line x1="624.44" y1="869.4" x2="624.44" y2="902.71" stroke="#000" stroke-width="2" stroke-linecap="round"/>
<line x1="643.51" y1="1052" x2="643.51" y2="1278.01" stroke="#000" stroke-width="2" stroke-linecap="round"/>
<line x1="662.58" y1="763.9" x2="662.58" y2="815.81" stroke="#000" stroke-width="2" stroke-linecap="round"/>
<line x1="681.65" y1="892.7" x2="681.65" y2="974.61" stroke="#000" stroke-width="2" stroke-linecap="round"/>
<path d="M149.25 824.65L143.75 824.65M149.25 824.65L147.55 819.42M149.25 824.65L153.69 821.42M149.25 824.65L153.69 827.88M149.25 824.65L147.55 829.88" stroke="#000" stroke-width="1.85" fill="none" stroke-linecap="butt"/>
<text transform="translate(176.97 832.4) rotate(-90)" font-size="25.6" textLength="34.09" lengthAdjust="spacingAndGlyphs">NS</text>
<text transform="translate(197.94 832.4) rotate(-90)" font-size="25.6" textLength="34.09" lengthAdjust="spacingAndGlyphs">NS</text>
<text transform="translate(218.66 832.4) rotate(-90)" font-size="25.6" textLength="34.09" lengthAdjust="spacingAndGlyphs">NS</text>
<path d="M244.51 824.65L239.01 824.65M244.51 824.65L242.81 819.42M244.51 824.65L248.95 821.42M244.51 824.65L248.95 827.88M244.51 824.65L242.81 829.88" stroke="#000" stroke-width="1.85" fill="none" stroke-linecap="butt"/>
<path d="M244.51 811.15L239.01 811.15M244.51 811.15L242.81 805.92M244.51 811.15L248.95 807.92M244.51 811.15L248.95 814.38M244.51 811.15L242.81 816.38" stroke="#000" stroke-width="1.85" fill="none" stroke-linecap="butt"/>
<path d="M263.88 824.65L258.38 824.65M263.88 824.65L262.18 819.42M263.88 824.65L268.32 821.42M263.88 824.65L268.32 827.88M263.88 824.65L262.18 829.88" stroke="#000" stroke-width="1.85" fill="none" stroke-linecap="butt"/>
<text transform="translate(292.55 832.4) rotate(-90)" font-size="25.6" textLength="34.09" lengthAdjust="spacingAndGlyphs">NS</text>
<path d="M304.32 824.65L298.82 824.65M304.32 824.65L302.62 819.42M304.32 824.65L308.76 821.42M304.32 824.65L308.76 827.88M304.32 824.65L302.62 829.88" stroke="#000" stroke-width="1.85" fill="none" stroke-linecap="butt"/>
<path d="M339.67 824.65L334.17 824.65M339.67 824.65L337.97 819.42M339.67 824.65L344.11 821.42M339.67 824.65L344.11 827.88M339.67 824.65L337.97 829.88" stroke="#000" stroke-width="1.85" fill="none" stroke-linecap="butt"/>
<path d="M358.74 824.65L353.24 824.65M358.74 824.65L357.04 819.42M358.74 824.65L363.18 821.42M358.74 824.65L363.18 827.88M358.74 824.65L357.04 829.88" stroke="#000" stroke-width="1.85" fill="none" stroke-linecap="butt"/>
<text transform="translate(387.11 832.4) rotate(-90)" font-size="25.6" textLength="34.09" lengthAdjust="spacingAndGlyphs">NS</text>
<path d="M396.88 824.65L391.38 824.65M396.88 824.65L395.18 819.42M396.88 824.65L401.32 821.42M396.88 824.65L401.32 827.88M396.88 824.65L395.18 829.88" stroke="#000" stroke-width="1.85" fill="none" stroke-linecap="butt"/>
<path d="M434.53 824.65L429.03 824.65M434.53 824.65L432.83 819.42M434.53 824.65L438.97 821.42M434.53 824.65L438.97 827.88M434.53 824.65L432.83 829.88" stroke="#000" stroke-width="1.85" fill="none" stroke-linecap="butt"/>
<path d="M434.53 811.15L429.03 811.15M434.53 811.15L432.83 805.92M434.53 811.15L438.97 807.92M434.53 811.15L438.97 814.38M434.53 811.15L432.83 816.38" stroke="#000" stroke-width="1.85" fill="none" stroke-linecap="butt"/>
<path d="M453.6 824.65L448.1 824.65M453.6 824.65L451.9 819.42M453.6 824.65L458.04 821.42M453.6 824.65L458.04 827.88M453.6 824.65L451.9 829.88" stroke="#000" stroke-width="1.85" fill="none" stroke-linecap="butt"/>
<path d="M472.67 824.65L467.17 824.65M472.67 824.65L470.97 819.42M472.67 824.65L477.11 821.42M472.67 824.65L477.11 827.88M472.67 824.65L470.97 829.88" stroke="#000" stroke-width="1.85" fill="none" stroke-linecap="butt"/>
<path d="M491.74 824.65L486.24 824.65M491.74 824.65L490.04 819.42M491.74 824.65L496.18 821.42M491.74 824.65L496.18 827.88M491.74 824.65L490.04 829.88" stroke="#000" stroke-width="1.85" fill="none" stroke-linecap="butt"/>
<path d="M529.38 824.65L523.88 824.65M529.38 824.65L527.69 819.42M529.38 824.65L533.83 821.42M529.38 824.65L533.83 827.88M529.38 824.65L527.69 829.88" stroke="#000" stroke-width="1.85" fill="none" stroke-linecap="butt"/>
<path d="M548.46 824.65L542.96 824.65M548.46 824.65L546.76 819.42M548.46 824.65L552.9 821.42M548.46 824.65L552.9 827.88M548.46 824.65L546.76 829.88" stroke="#000" stroke-width="1.85" fill="none" stroke-linecap="butt"/>
<path d="M548.46 811.15L542.96 811.15M548.46 811.15L546.76 805.92M548.46 811.15L552.9 807.92M548.46 811.15L552.9 814.38M548.46 811.15L546.76 816.38" stroke="#000" stroke-width="1.85" fill="none" stroke-linecap="butt"/>
<path d="M567.52 799.05L562.02 799.05M567.52 799.05L565.83 793.82M567.52 799.05L571.97 795.82M567.52 799.05L571.97 802.28M567.52 799.05L565.83 804.28" stroke="#000" stroke-width="1.85" fill="none" stroke-linecap="butt"/>
<path d="M586.6 824.65L581.1 824.65M586.6 824.65L584.9 819.42M586.6 824.65L591.04 821.42M586.6 824.65L591.04 827.88M586.6 824.65L584.9 829.88" stroke="#000" stroke-width="1.85" fill="none" stroke-linecap="butt"/>
<path d="M624.24 824.65L618.74 824.65M624.24 824.65L622.55 819.42M624.24 824.65L628.69 821.42M624.24 824.65L628.69 827.88M624.24 824.65L622.55 829.88" stroke="#000" stroke-width="1.85" fill="none" stroke-linecap="butt"/>
<path d="M643.31 824.65L637.81 824.65M643.31 824.65L641.62 819.42M643.31 824.65L647.76 821.42M643.31 824.65L647.76 827.88M643.31 824.65L641.62 829.88" stroke="#000" stroke-width="1.85" fill="none" stroke-linecap="butt"/>
<path d="M643.31 811.15L637.81 811.15M643.31 811.15L641.62 805.92M643.31 811.15L647.76 807.92M643.31 811.15L647.76 814.38M643.31 811.15L641.62 816.38" stroke="#000" stroke-width="1.85" fill="none" stroke-linecap="butt"/>
<path d="M662.38 750.45L656.88 750.45M662.38 750.45L660.69 745.22M662.38 750.45L666.83 747.22M662.38 750.45L666.83 753.68M662.38 750.45L660.69 755.68" stroke="#000" stroke-width="1.85" fill="none" stroke-linecap="butt"/>
<path d="M662.38 736.95L656.88 736.95M662.38 736.95L660.69 731.72M662.38 736.95L666.83 733.72M662.38 736.95L666.83 740.18M662.38 736.95L660.69 742.18" stroke="#000" stroke-width="1.85" fill="none" stroke-linecap="butt"/>
<path d="M681.45 824.65L675.95 824.65M681.45 824.65L679.76 819.42M681.45 824.65L685.9 821.42M681.45 824.65L685.9 827.88M681.45 824.65L679.76 829.88" stroke="#000" stroke-width="1.85" fill="none" stroke-linecap="butt"/>
<path d="M113.05 683.3V989.8H718.7" fill="none" stroke="#000" stroke-width="2.1" stroke-linejoin="round"/>
<path d="M113.05 1012.9V1319.1H718.7" fill="none" stroke="#000" stroke-width="2.1" stroke-linejoin="round"/>
<line x1="107.9" y1="1319.1" x2="113.05" y2="1319.1" stroke="#000" stroke-width="2.1" stroke-linecap="butt"/>
<line x1="104.1" y1="994.3" x2="122.1" y2="984.8" stroke="#000" stroke-width="2.1" stroke-linecap="butt"/>
<line x1="104.1" y1="1018" x2="122.1" y2="1008.5" stroke="#000" stroke-width="2.1" stroke-linecap="butt"/>
<line x1="178.5" y1="989.8" x2="178.5" y2="994.6" stroke="#000" stroke-width="2.1" stroke-linecap="butt"/>
<line x1="178.5" y1="1319.1" x2="178.5" y2="1324.1" stroke="#000" stroke-width="2.1" stroke-linecap="butt"/>
<line x1="273.36" y1="989.8" x2="273.36" y2="994.6" stroke="#000" stroke-width="2.1" stroke-linecap="butt"/>
<line x1="273.36" y1="1319.1" x2="273.36" y2="1324.1" stroke="#000" stroke-width="2.1" stroke-linecap="butt"/>
<line x1="368.22" y1="989.8" x2="368.22" y2="994.6" stroke="#000" stroke-width="2.1" stroke-linecap="butt"/>
<line x1="368.22" y1="1319.1" x2="368.22" y2="1324.1" stroke="#000" stroke-width="2.1" stroke-linecap="butt"/>
<line x1="463.08" y1="989.8" x2="463.08" y2="994.6" stroke="#000" stroke-width="2.1" stroke-linecap="butt"/>
<line x1="463.08" y1="1319.1" x2="463.08" y2="1324.1" stroke="#000" stroke-width="2.1" stroke-linecap="butt"/>
<line x1="557.94" y1="989.8" x2="557.94" y2="994.6" stroke="#000" stroke-width="2.1" stroke-linecap="butt"/>
<line x1="557.94" y1="1319.1" x2="557.94" y2="1324.1" stroke="#000" stroke-width="2.1" stroke-linecap="butt"/>
<line x1="652.8" y1="989.8" x2="652.8" y2="994.6" stroke="#000" stroke-width="2.1" stroke-linecap="butt"/>
<line x1="652.8" y1="1319.1" x2="652.8" y2="1324.1" stroke="#000" stroke-width="2.1" stroke-linecap="butt"/>
<line x1="107.9" y1="764.8" x2="113" y2="764.8" stroke="#000" stroke-width="2.1" stroke-linecap="butt"/>
<line x1="107.9" y1="854.85" x2="113" y2="854.85" stroke="#000" stroke-width="2.1" stroke-linecap="butt"/>
<line x1="107.9" y1="944.9" x2="113" y2="944.9" stroke="#000" stroke-width="2.1" stroke-linecap="butt"/>
<line x1="107.9" y1="1049.1" x2="113" y2="1049.1" stroke="#000" stroke-width="2.1" stroke-linecap="butt"/>
<line x1="107.9" y1="1139.1" x2="113" y2="1139.1" stroke="#000" stroke-width="2.1" stroke-linecap="butt"/>
<line x1="107.9" y1="1229.1" x2="113" y2="1229.1" stroke="#000" stroke-width="2.1" stroke-linecap="butt"/>
<text class="t" x="59.6" y="774.8" font-size="30" textLength="40.5" lengthAdjust="spacingAndGlyphs" transform="rotate(0.03 59.6 774.8)">0.5</text>
<text class="t" x="83.9" y="864.85" font-size="30" textLength="16.2" lengthAdjust="spacingAndGlyphs" transform="rotate(0.03 83.9 864.85)">0</text>
<line x1="43.6" y1="947.3" x2="58.7" y2="947.3" stroke="#000" stroke-width="1.9" stroke-linecap="butt"/>
<text class="t" x="59.6" y="954.9" font-size="30" textLength="40.5" lengthAdjust="spacingAndGlyphs" transform="rotate(0.03 59.6 954.9)">0.5</text>
<line x1="43.6" y1="1051.5" x2="58.7" y2="1051.5" stroke="#000" stroke-width="1.9" stroke-linecap="butt"/>
<path d="M67.7 1059.1V1044.55H62.4V1042.35Q66.9 1041.95 68.1 1038.65H70.2V1059.1Z" fill="#000"/>
<text class="t" x="75.8" y="1059.1" font-size="30" textLength="24.3" lengthAdjust="spacingAndGlyphs" transform="rotate(0.03 75.8 1059.1)">.5</text>
<line x1="43.6" y1="1141.5" x2="58.7" y2="1141.5" stroke="#000" stroke-width="1.9" stroke-linecap="butt"/>
<text class="t" x="59.6" y="1149.1" font-size="30" textLength="40.5" lengthAdjust="spacingAndGlyphs" transform="rotate(0.03 59.6 1149.1)">2.0</text>
<line x1="43.6" y1="1231.5" x2="58.7" y2="1231.5" stroke="#000" stroke-width="1.9" stroke-linecap="butt"/>
<text class="t" x="59.6" y="1239.1" font-size="30" textLength="40.5" lengthAdjust="spacingAndGlyphs" transform="rotate(0.03 59.6 1239.1)">2.5</text>
<line x1="43.6" y1="1321.5" x2="58.7" y2="1321.5" stroke="#000" stroke-width="1.9" stroke-linecap="butt"/>
<text class="t" x="59.6" y="1329.1" font-size="30" textLength="40.5" lengthAdjust="spacingAndGlyphs" transform="rotate(0.03 59.6 1329.1)">3.0</text>
<rect x="869.34" y="864.9" width="1" height="0.7" fill="#72106f"/>
<rect x="870.14" y="864.9" width="20.08" height="4.6" fill="#72106f"/>
<rect x="849.26" y="864.9" width="1" height="0.7" fill="#e08a24"/>
<rect x="850.06" y="864.9" width="20.08" height="0.7" fill="#e08a24"/>
<rect x="829.18" y="864.9" width="1" height="1.7" fill="#3d8fe1"/>
<rect x="829.98" y="864.9" width="20.08" height="1.7" fill="#3d8fe1"/>
<rect x="809.9" y="864.9" width="20.08" height="3.8" fill="#47b649"/>
<rect x="969.69" y="864.9" width="1" height="2.9" fill="#72106f"/>
<rect x="970.49" y="864.9" width="20.08" height="9.4" fill="#72106f"/>
<rect x="949.61" y="864.9" width="1" height="2.9" fill="#e08a24"/>
<rect x="950.41" y="864.9" width="20.08" height="2.9" fill="#e08a24"/>
<rect x="929.53" y="864.9" width="1" height="9.4" fill="#3d8fe1"/>
<rect x="930.33" y="864.9" width="20.08" height="10.6" fill="#3d8fe1"/>
<rect x="910.25" y="864.9" width="20.08" height="9.4" fill="#47b649"/>
<rect x="1070.04" y="864.9" width="1" height="4.6" fill="#72106f"/>
<rect x="1070.84" y="864.9" width="20.08" height="21.3" fill="#72106f"/>
<rect x="1050.76" y="864.9" width="20.08" height="4.6" fill="#e08a24"/>
<rect x="1030.68" y="853.1" width="20.08" height="11.8" fill="#3d8fe1"/>
<rect x="1010.6" y="864.9" width="20.08" height="3.6" fill="#47b649"/>
<rect x="1170.39" y="864.9" width="1" height="23.7" fill="#72106f"/>
<rect x="1171.19" y="864.9" width="20.08" height="92" fill="#72106f"/>
<rect x="1150.31" y="864.9" width="1" height="0.4" fill="#e08a24"/>
<rect x="1151.11" y="864.9" width="20.08" height="23.7" fill="#e08a24"/>
<rect x="1130.23" y="864.9" width="1" height="0.4" fill="#3d8fe1"/>
<rect x="1131.03" y="864.9" width="20.08" height="0.4" fill="#3d8fe1"/>
<rect x="1110.95" y="864.9" width="20.08" height="61.8" fill="#47b649"/>
<rect x="1270.74" y="864.9" width="1" height="55.5" fill="#72106f"/>
<rect x="1271.54" y="864.9" width="20.08" height="72.9" fill="#72106f"/>
<rect x="1250.66" y="864.9" width="1" height="55.5" fill="#e08a24"/>
<rect x="1251.46" y="864.9" width="20.08" height="55.5" fill="#e08a24"/>
<rect x="1230.58" y="864.9" width="1" height="72.4" fill="#3d8fe1"/>
<rect x="1231.38" y="864.9" width="20.08" height="93.9" fill="#3d8fe1"/>
<rect x="1211.3" y="864.9" width="20.08" height="72.4" fill="#47b649"/>
<rect x="1371.09" y="864.9" width="1" height="3.5" fill="#72106f"/>
<rect x="1371.89" y="864.9" width="20.08" height="3.5" fill="#72106f"/>
<rect x="1351.01" y="864.9" width="1" height="166.7" fill="#e08a24"/>
<rect x="1351.81" y="864.9" width="20.08" height="307" fill="#e08a24"/>
<rect x="1330.93" y="864.9" width="1" height="166.7" fill="#3d8fe1"/>
<rect x="1331.73" y="864.9" width="20.08" height="166.7" fill="#3d8fe1"/>
<rect x="1311.65" y="864.9" width="20.08" height="240.9" fill="#47b649"/>
<line x1="800.3" y1="864.9" x2="1402" y2="864.9" stroke="#000" stroke-opacity="0.4" stroke-width="2.1"/>
<line x1="819.94" y1="868.9" x2="819.94" y2="868.91" stroke="#000" stroke-width="2" stroke-linecap="round"/>
<line x1="840.02" y1="865" x2="840.02" y2="867.51" stroke="#000" stroke-width="2" stroke-linecap="round"/>
<line x1="860.1" y1="865.6" x2="860.1" y2="865.61" stroke="#000" stroke-width="2" stroke-linecap="round"/>
<line x1="880.18" y1="869.5" x2="880.18" y2="869.51" stroke="#000" stroke-width="2" stroke-linecap="round"/>
<line x1="920.29" y1="873.8" x2="920.29" y2="874.81" stroke="#000" stroke-width="2" stroke-linecap="round"/>
<line x1="940.37" y1="873.1" x2="940.37" y2="877.51" stroke="#000" stroke-width="2" stroke-linecap="round"/>
<line x1="960.45" y1="867.95" x2="960.45" y2="867.96" stroke="#000" stroke-width="2" stroke-linecap="round"/>
<line x1="980.53" y1="873.8" x2="980.53" y2="875.41" stroke="#000" stroke-width="2" stroke-linecap="round"/>
<line x1="1020.64" y1="866.3" x2="1020.64" y2="870.31" stroke="#000" stroke-width="2" stroke-linecap="round"/>
<line x1="1040.72" y1="848.1" x2="1040.72" y2="857.81" stroke="#000" stroke-width="2" stroke-linecap="round"/>
<line x1="1060.8" y1="868" x2="1060.8" y2="871.31" stroke="#000" stroke-width="2" stroke-linecap="round"/>
<line x1="1080.88" y1="882.7" x2="1080.88" y2="889.71" stroke="#000" stroke-width="2" stroke-linecap="round"/>
<line x1="1120.99" y1="919.9" x2="1120.99" y2="933.91" stroke="#000" stroke-width="2" stroke-linecap="round"/>
<line x1="1141.07" y1="846" x2="1141.07" y2="881.21" stroke="#000" stroke-width="2" stroke-linecap="round"/>
<line x1="1161.15" y1="882.3" x2="1161.15" y2="894.11" stroke="#000" stroke-width="2" stroke-linecap="round"/>
<line x1="1181.23" y1="948.6" x2="1181.23" y2="968.41" stroke="#000" stroke-width="2" stroke-linecap="round"/>
<line x1="1221.34" y1="918.1" x2="1221.34" y2="952.41" stroke="#000" stroke-width="2" stroke-linecap="round"/>
<line x1="1241.42" y1="925.4" x2="1241.42" y2="992.31" stroke="#000" stroke-width="2" stroke-linecap="round"/>
<line x1="1261.5" y1="904.1" x2="1261.5" y2="939.71" stroke="#000" stroke-width="2" stroke-linecap="round"/>
<line x1="1281.58" y1="900.5" x2="1281.58" y2="964.01" stroke="#000" stroke-width="2" stroke-linecap="round"/>
<line x1="1321.69" y1="1020.4" x2="1321.69" y2="1165.11" stroke="#000" stroke-width="2" stroke-linecap="round"/>
<line x1="1341.77" y1="951.3" x2="1341.77" y2="1141.51" stroke="#000" stroke-width="2" stroke-linecap="round"/>
<line x1="1361.85" y1="1126.6" x2="1361.85" y2="1259.71" stroke="#000" stroke-width="2" stroke-linecap="round"/>
<line x1="1381.93" y1="814" x2="1381.93" y2="942.61" stroke="#000" stroke-width="2" stroke-linecap="round"/>
<path d="M819.04 834.25L813.54 834.25M819.04 834.25L817.34 829.02M819.04 834.25L823.49 831.02M819.04 834.25L823.49 837.48M819.04 834.25L817.34 839.48" stroke="#000" stroke-width="1.85" fill="none" stroke-linecap="butt"/>
<path d="M839.12 834.25L833.62 834.25M839.12 834.25L837.42 829.02M839.12 834.25L843.57 831.02M839.12 834.25L843.57 837.48M839.12 834.25L837.42 839.48" stroke="#000" stroke-width="1.85" fill="none" stroke-linecap="butt"/>
<path d="M859.2 834.25L853.7 834.25M859.2 834.25L857.5 829.02M859.2 834.25L863.65 831.02M859.2 834.25L863.65 837.48M859.2 834.25L857.5 839.48" stroke="#000" stroke-width="1.85" fill="none" stroke-linecap="butt"/>
<path d="M879.28 834.25L873.78 834.25M879.28 834.25L877.58 829.02M879.28 834.25L883.73 831.02M879.28 834.25L883.73 837.48M879.28 834.25L877.58 839.48" stroke="#000" stroke-width="1.85" fill="none" stroke-linecap="butt"/>
<path d="M919.39 834.25L913.89 834.25M919.39 834.25L917.69 829.02M919.39 834.25L923.84 831.02M919.39 834.25L923.84 837.48M919.39 834.25L917.69 839.48" stroke="#000" stroke-width="1.85" fill="none" stroke-linecap="butt"/>
<path d="M919.39 820.75L913.89 820.75M919.39 820.75L917.69 815.52M919.39 820.75L923.84 817.52M919.39 820.75L923.84 823.98M919.39 820.75L917.69 825.98" stroke="#000" stroke-width="1.85" fill="none" stroke-linecap="butt"/>
<path d="M939.47 834.25L933.97 834.25M939.47 834.25L937.77 829.02M939.47 834.25L943.92 831.02M939.47 834.25L943.92 837.48M939.47 834.25L937.77 839.48" stroke="#000" stroke-width="1.85" fill="none" stroke-linecap="butt"/>
<path d="M939.47 820.75L933.97 820.75M939.47 820.75L937.77 815.52M939.47 820.75L943.92 817.52M939.47 820.75L943.92 823.98M939.47 820.75L937.77 825.98" stroke="#000" stroke-width="1.85" fill="none" stroke-linecap="butt"/>
<path d="M959.55 834.25L954.05 834.25M959.55 834.25L957.85 829.02M959.55 834.25L964 831.02M959.55 834.25L964 837.48M959.55 834.25L957.85 839.48" stroke="#000" stroke-width="1.85" fill="none" stroke-linecap="butt"/>
<path d="M979.63 834.25L974.13 834.25M979.63 834.25L977.93 829.02M979.63 834.25L984.08 831.02M979.63 834.25L984.08 837.48M979.63 834.25L977.93 839.48" stroke="#000" stroke-width="1.85" fill="none" stroke-linecap="butt"/>
<path d="M1019.74 834.25L1014.24 834.25M1019.74 834.25L1018.04 829.02M1019.74 834.25L1024.19 831.02M1019.74 834.25L1024.19 837.48M1019.74 834.25L1018.04 839.48" stroke="#000" stroke-width="1.85" fill="none" stroke-linecap="butt"/>
<path d="M1039.82 834.25L1034.32 834.25M1039.82 834.25L1038.12 829.02M1039.82 834.25L1044.27 831.02M1039.82 834.25L1044.27 837.48M1039.82 834.25L1038.12 839.48" stroke="#000" stroke-width="1.85" fill="none" stroke-linecap="butt"/>
<path d="M1059.9 834.25L1054.4 834.25M1059.9 834.25L1058.2 829.02M1059.9 834.25L1064.35 831.02M1059.9 834.25L1064.35 837.48M1059.9 834.25L1058.2 839.48" stroke="#000" stroke-width="1.85" fill="none" stroke-linecap="butt"/>
<path d="M1059.9 820.75L1054.4 820.75M1059.9 820.75L1058.2 815.52M1059.9 820.75L1064.35 817.52M1059.9 820.75L1064.35 823.98M1059.9 820.75L1058.2 825.98" stroke="#000" stroke-width="1.85" fill="none" stroke-linecap="butt"/>
<path d="M1079.98 834.25L1074.48 834.25M1079.98 834.25L1078.28 829.02M1079.98 834.25L1084.43 831.02M1079.98 834.25L1084.43 837.48M1079.98 834.25L1078.28 839.48" stroke="#000" stroke-width="1.85" fill="none" stroke-linecap="butt"/>
<path d="M1120.09 834.25L1114.59 834.25M1120.09 834.25L1118.39 829.02M1120.09 834.25L1124.54 831.02M1120.09 834.25L1124.54 837.48M1120.09 834.25L1118.39 839.48" stroke="#000" stroke-width="1.85" fill="none" stroke-linecap="butt"/>
<path d="M1120.09 820.75L1114.59 820.75M1120.09 820.75L1118.39 815.52M1120.09 820.75L1124.54 817.52M1120.09 820.75L1124.54 823.98M1120.09 820.75L1118.39 825.98" stroke="#000" stroke-width="1.85" fill="none" stroke-linecap="butt"/>
<path d="M1140.17 834.25L1134.67 834.25M1140.17 834.25L1138.47 829.02M1140.17 834.25L1144.62 831.02M1140.17 834.25L1144.62 837.48M1140.17 834.25L1138.47 839.48" stroke="#000" stroke-width="1.85" fill="none" stroke-linecap="butt"/>
<path d="M1160.25 834.25L1154.75 834.25M1160.25 834.25L1158.55 829.02M1160.25 834.25L1164.7 831.02M1160.25 834.25L1164.7 837.48M1160.25 834.25L1158.55 839.48" stroke="#000" stroke-width="1.85" fill="none" stroke-linecap="butt"/>
<path d="M1160.25 820.75L1154.75 820.75M1160.25 820.75L1158.55 815.52M1160.25 820.75L1164.7 817.52M1160.25 820.75L1164.7 823.98M1160.25 820.75L1158.55 825.98" stroke="#000" stroke-width="1.85" fill="none" stroke-linecap="butt"/>
<path d="M1180.33 834.25L1174.83 834.25M1180.33 834.25L1178.63 829.02M1180.33 834.25L1184.78 831.02M1180.33 834.25L1184.78 837.48M1180.33 834.25L1178.63 839.48" stroke="#000" stroke-width="1.85" fill="none" stroke-linecap="butt"/>
<path d="M1220.44 834.25L1214.94 834.25M1220.44 834.25L1218.74 829.02M1220.44 834.25L1224.89 831.02M1220.44 834.25L1224.89 837.48M1220.44 834.25L1218.74 839.48" stroke="#000" stroke-width="1.85" fill="none" stroke-linecap="butt"/>
<path d="M1220.44 820.75L1214.94 820.75M1220.44 820.75L1218.74 815.52M1220.44 820.75L1224.89 817.52M1220.44 820.75L1224.89 823.98M1220.44 820.75L1218.74 825.98" stroke="#000" stroke-width="1.85" fill="none" stroke-linecap="butt"/>
<path d="M1240.52 834.25L1235.02 834.25M1240.52 834.25L1238.82 829.02M1240.52 834.25L1244.97 831.02M1240.52 834.25L1244.97 837.48M1240.52 834.25L1238.82 839.48" stroke="#000" stroke-width="1.85" fill="none" stroke-linecap="butt"/>
<path d="M1260.6 834.25L1255.1 834.25M1260.6 834.25L1258.9 829.02M1260.6 834.25L1265.05 831.02M1260.6 834.25L1265.05 837.48M1260.6 834.25L1258.9 839.48" stroke="#000" stroke-width="1.85" fill="none" stroke-linecap="butt"/>
<path d="M1260.6 820.75L1255.1 820.75M1260.6 820.75L1258.9 815.52M1260.6 820.75L1265.05 817.52M1260.6 820.75L1265.05 823.98M1260.6 820.75L1258.9 825.98" stroke="#000" stroke-width="1.85" fill="none" stroke-linecap="butt"/>
<path d="M1280.68 834.25L1275.18 834.25M1280.68 834.25L1278.98 829.02M1280.68 834.25L1285.13 831.02M1280.68 834.25L1285.13 837.48M1280.68 834.25L1278.98 839.48" stroke="#000" stroke-width="1.85" fill="none" stroke-linecap="butt"/>
<path d="M1320.79 834.25L1315.29 834.25M1320.79 834.25L1319.09 829.02M1320.79 834.25L1325.24 831.02M1320.79 834.25L1325.24 837.48M1320.79 834.25L1319.09 839.48" stroke="#000" stroke-width="1.85" fill="none" stroke-linecap="butt"/>
<path d="M1340.87 834.25L1335.37 834.25M1340.87 834.25L1339.17 829.02M1340.87 834.25L1345.32 831.02M1340.87 834.25L1345.32 837.48M1340.87 834.25L1339.17 839.48" stroke="#000" stroke-width="1.85" fill="none" stroke-linecap="butt"/>
<path d="M1340.87 820.75L1335.37 820.75M1340.87 820.75L1339.17 815.52M1340.87 820.75L1345.32 817.52M1340.87 820.75L1345.32 823.98M1340.87 820.75L1339.17 825.98" stroke="#000" stroke-width="1.85" fill="none" stroke-linecap="butt"/>
<path d="M1360.95 834.25L1355.45 834.25M1360.95 834.25L1359.25 829.02M1360.95 834.25L1365.4 831.02M1360.95 834.25L1365.4 837.48M1360.95 834.25L1359.25 839.48" stroke="#000" stroke-width="1.85" fill="none" stroke-linecap="butt"/>
<path d="M1360.95 820.75L1355.45 820.75M1360.95 820.75L1359.25 815.52M1360.95 820.75L1365.4 817.52M1360.95 820.75L1365.4 823.98M1360.95 820.75L1359.25 825.98" stroke="#000" stroke-width="1.85" fill="none" stroke-linecap="butt"/>
<path d="M1381.93 796.45L1376.43 796.45M1381.93 796.45L1380.23 791.22M1381.93 796.45L1386.38 793.22M1381.93 796.45L1386.38 799.68M1381.93 796.45L1380.23 801.68" stroke="#000" stroke-width="1.85" fill="none" stroke-linecap="butt"/>
<path d="M800.3 687.8V1319.1H1403" fill="none" stroke="#000" stroke-width="2.1" stroke-linejoin="round"/>
<line x1="850" y1="1319.1" x2="850" y2="1324.1" stroke="#000" stroke-width="2.1" stroke-linecap="butt"/>
<line x1="950.4" y1="1319.1" x2="950.4" y2="1324.1" stroke="#000" stroke-width="2.1" stroke-linecap="butt"/>
<line x1="1050.8" y1="1319.1" x2="1050.8" y2="1324.1" stroke="#000" stroke-width="2.1" stroke-linecap="butt"/>
<line x1="1151.2" y1="1319.1" x2="1151.2" y2="1324.1" stroke="#000" stroke-width="2.1" stroke-linecap="butt"/>
<line x1="1251.2" y1="1319.1" x2="1251.2" y2="1324.1" stroke="#000" stroke-width="2.1" stroke-linecap="butt"/>
<line x1="1351.5" y1="1319.1" x2="1351.5" y2="1324.1" stroke="#000" stroke-width="2.1" stroke-linecap="butt"/>
<text class="t" x="751" y="773.6" font-size="30" textLength="40.5" lengthAdjust="spacingAndGlyphs" transform="rotate(0.03 751 773.6)">0.2</text>
<text class="t" x="775.3" y="874.9" font-size="30" textLength="16.2" lengthAdjust="spacingAndGlyphs" transform="rotate(0.03 775.3 874.9)">0</text>
<line x1="735" y1="968.6" x2="750.1" y2="968.6" stroke="#000" stroke-width="1.9" stroke-linecap="butt"/>
<text class="t" x="751" y="976.2" font-size="30" textLength="40.5" lengthAdjust="spacingAndGlyphs" transform="rotate(0.03 751 976.2)">0.2</text>
<line x1="735" y1="1070.1" x2="750.1" y2="1070.1" stroke="#000" stroke-width="1.9" stroke-linecap="butt"/>
<text class="t" x="751" y="1077.7" font-size="30" textLength="40.5" lengthAdjust="spacingAndGlyphs" transform="rotate(0.03 751 1077.7)">0.4</text>
<line x1="735" y1="1171.5" x2="750.1" y2="1171.5" stroke="#000" stroke-width="1.9" stroke-linecap="butt"/>
<text class="t" x="751" y="1179.1" font-size="30" textLength="40.5" lengthAdjust="spacingAndGlyphs" transform="rotate(0.03 751 1179.1)">0.6</text>
<line x1="735" y1="1273" x2="750.1" y2="1273" stroke="#000" stroke-width="1.9" stroke-linecap="butt"/>
<text class="t" x="751" y="1280.6" font-size="30" textLength="40.5" lengthAdjust="spacingAndGlyphs" transform="rotate(0.03 751 1280.6)">0.8</text>
<text class="t" x="148.9" y="1355.6" font-size="30" textLength="56.7" lengthAdjust="spacingAndGlyphs" transform="rotate(0.03 148.9 1355.6)">0.05</text>
<text class="t" x="239.8" y="1355.6" font-size="30" textLength="24.3" lengthAdjust="spacingAndGlyphs" transform="rotate(0.03 239.8 1355.6)">0.</text>
<path d="M272.2 1355.6V1341.05H266.9V1338.85Q271.4 1338.45 272.6 1335.15H274.7V1355.6Z" fill="#000"/>
<text class="t" x="280.3" y="1355.6" font-size="30" textLength="16.2" lengthAdjust="spacingAndGlyphs" transform="rotate(0.03 280.3 1355.6)">0</text>
<text class="t" x="339.2" y="1355.6" font-size="30" textLength="56.7" lengthAdjust="spacingAndGlyphs" transform="rotate(0.03 339.2 1355.6)">0.25</text>
<text class="t" x="433.6" y="1355.6" font-size="30" textLength="56.7" lengthAdjust="spacingAndGlyphs" transform="rotate(0.03 433.6 1355.6)">0.50</text>
<path d="M536.4 1355.6V1341.05H531.1V1338.85Q535.6 1338.45 536.8 1335.15H538.9V1355.6Z" fill="#000"/>
<text class="t" x="544.5" y="1355.6" font-size="30" textLength="40.5" lengthAdjust="spacingAndGlyphs" transform="rotate(0.03 544.5 1355.6)">.00</text>
<text class="t" x="623.7" y="1355.6" font-size="30" textLength="56.7" lengthAdjust="spacingAndGlyphs" transform="rotate(0.03 623.7 1355.6)">2.00</text>
<text class="t" x="820.7" y="1355.6" font-size="30" textLength="56.7" lengthAdjust="spacingAndGlyphs" transform="rotate(0.03 820.7 1355.6)">0.05</text>
<text class="t" x="916.7" y="1355.6" font-size="30" textLength="24.3" lengthAdjust="spacingAndGlyphs" transform="rotate(0.03 916.7 1355.6)">0.</text>
<path d="M949.1 1355.6V1341.05H943.8V1338.85Q948.3 1338.45 949.5 1335.15H951.6V1355.6Z" fill="#000"/>
<text class="t" x="957.2" y="1355.6" font-size="30" textLength="16.2" lengthAdjust="spacingAndGlyphs" transform="rotate(0.03 957.2 1355.6)">0</text>
<text class="t" x="1021.3" y="1355.6" font-size="30" textLength="56.7" lengthAdjust="spacingAndGlyphs" transform="rotate(0.03 1021.3 1355.6)">0.25</text>
<text class="t" x="1121.5" y="1355.6" font-size="30" textLength="56.7" lengthAdjust="spacingAndGlyphs" transform="rotate(0.03 1121.5 1355.6)">0.50</text>
<path d="M1225.5 1355.6V1341.05H1220.2V1338.85Q1224.7 1338.45 1225.9 1335.15H1228V1355.6Z" fill="#000"/>
<text class="t" x="1233.6" y="1355.6" font-size="30" textLength="40.5" lengthAdjust="spacingAndGlyphs" transform="rotate(0.03 1233.6 1355.6)">.00</text>
<text class="t" x="1317.6" y="1355.6" font-size="30" textLength="56.7" lengthAdjust="spacingAndGlyphs" transform="rotate(0.03 1317.6 1355.6)">2.00</text>
<text class="t" x="297.29" y="1405.6" font-size="30.4" textLength="138.82" lengthAdjust="spacingAndGlyphs" transform="rotate(0.03 297.29 1405.6)">Resolution</text>
<text class="t" x="1023.19" y="1405.6" font-size="30.4" textLength="139.02" lengthAdjust="spacingAndGlyphs" transform="rotate(0.03 1023.19 1405.6)">Resolution</text>
<text class="t" x="443.63" y="1405.6" font-size="30.4" textLength="8.42" lengthAdjust="spacingAndGlyphs" transform="rotate(0.03 443.63 1405.6)">(</text>
<text class="t" x="462.87" y="1405.6" font-size="30.4" textLength="7.54" lengthAdjust="spacingAndGlyphs" transform="rotate(0.03 462.87 1405.6)">)</text>
<circle cx="457.35" cy="1389.45" r="4.2" fill="none" stroke="#000" stroke-width="1.9"/>
<text class="t" x="1169.53" y="1405.6" font-size="30.4" textLength="8.42" lengthAdjust="spacingAndGlyphs" transform="rotate(0.03 1169.53 1405.6)">(</text>
<text class="t" x="1188.77" y="1405.6" font-size="30.4" textLength="7.54" lengthAdjust="spacingAndGlyphs" transform="rotate(0.03 1188.77 1405.6)">)</text>
<circle cx="1183.25" cy="1389.45" r="4.2" fill="none" stroke="#000" stroke-width="1.9"/>
<text class="t" x="364.23" y="38.5" font-size="30.4" textLength="98.05" lengthAdjust="spacingAndGlyphs" transform="rotate(0.03 364.23 38.5)">Tropics</text>
<text class="t" x="1043.94" y="38.6" font-size="30.4" textLength="107.15" lengthAdjust="spacingAndGlyphs" transform="rotate(0.03 1043.94 38.6)">Amazon</text>
<text class="t" x="370.67" y="707" font-size="30.4" textLength="88.69" lengthAdjust="spacingAndGlyphs" transform="rotate(0.03 370.67 707)">Congo</text>
<text class="t" x="1072.64" y="706.9" font-size="30.4" textLength="55.62" lengthAdjust="spacingAndGlyphs" transform="rotate(0.03 1072.64 706.9)">SEA</text>
<path d="M51.0 11.75L51.15 8.6C51.6 6.6 54.6 5.8 58.7 5.8C64.6 5.8 68.1 7.6 68.1 12.3L68.1 21.8Q68.2 23.1 68.9 23.85L62.4 23.85L61.7 22L61.7 12.0C61.7 10.4 60.7 9.75 59.4 9.75C58.0 9.75 57.2 10.4 56.9 11.75Z" fill="#000"/>
<path d="M62.0 12.9L62.0 20.5C61.2 23.4 58.9 24.75 56.1 24.75C52.4 24.75 50.0 22.6 50.0 19.2C50.0 15.9 52.0 14.3 55.5 13.7Z" fill="#000"/>
<ellipse cx="59.2" cy="18.45" rx="2.9" ry="2.0" transform="rotate(-22 59.2 18.45)" fill="#fff"/>
<rect x="737.1" y="-1" width="6.5" height="24.7" fill="#000"/>
<ellipse cx="746.7" cy="15.25" rx="9.4" ry="9.15" fill="#000"/>
<ellipse cx="746.55" cy="15.3" rx="3.55" ry="4.75" fill="#fff"/>
<rect x="749.5" y="669.7" width="6.4" height="23.8" fill="#000"/>
<ellipse cx="746.5" cy="684.75" rx="9.4" ry="9.05" fill="#000"/>
<ellipse cx="746.55" cy="684.9" rx="3.45" ry="4.9" fill="#fff"/>
<ellipse cx="59.4" cy="684.55" rx="9.4" ry="9.25" fill="#000"/>
<ellipse cx="59.5" cy="684.65" rx="3.5" ry="4.85" fill="#fff"/>
<rect x="62.25" y="682.7" width="8" height="4.3" fill="#fff"/>
<g transform="translate(20.8 0) rotate(-90)">
<text class="t" x="-609.3" y="0" font-size="30.4" textLength="17.91" lengthAdjust="spacingAndGlyphs">Δ</text>
<text class="t" x="-591.7" y="0" font-size="30.4" textLength="19.59" lengthAdjust="spacingAndGlyphs" font-style="italic">P</text>
<text class="t" x="-564.63" y="0" font-size="30.4" textLength="488.36" lengthAdjust="spacingAndGlyphs">(mm per month per percentage point)</text>
</g>
<g transform="translate(20.8 666) rotate(-90)">
<text class="t" x="-609.3" y="0" font-size="30.4" textLength="17.91" lengthAdjust="spacingAndGlyphs">Δ</text>
<text class="t" x="-591.7" y="0" font-size="30.4" textLength="19.59" lengthAdjust="spacingAndGlyphs" font-style="italic">P</text>
<text class="t" x="-564.63" y="0" font-size="30.4" textLength="488.36" lengthAdjust="spacingAndGlyphs">(mm per month per percentage point)</text>
</g>
<rect x="433.1" y="1448.9" width="22.7" height="18.8" fill="#47b649"/>
<text class="t" x="467.94" y="1468.8" font-size="30.4" textLength="90.09" lengthAdjust="spacingAndGlyphs" transform="rotate(0.03 467.94 1468.8)">Annual</text>
<rect x="607.2" y="1448.9" width="22.7" height="18.8" fill="#3d8fe1"/>
<text class="t" x="642.48" y="1468.8" font-size="30.4" textLength="50.03" lengthAdjust="spacingAndGlyphs" transform="rotate(0.03 642.48 1468.8)">Wet</text>
<rect x="745.1" y="1448.9" width="22.7" height="18.8" fill="#e08a24"/>
<text class="t" x="777.45" y="1466" font-size="30.4" textLength="44.61" lengthAdjust="spacingAndGlyphs" transform="rotate(0.03 777.45 1466)">Dry</text>
<rect x="872.9" y="1448.9" width="22.7" height="18.8" fill="#72106f"/>
<text class="t" x="906.94" y="1468.8" font-size="30.4" textLength="128.56" lengthAdjust="spacingAndGlyphs" transform="rotate(0.03 906.94 1468.8)">Transition</text>
</svg>
</body></html>
